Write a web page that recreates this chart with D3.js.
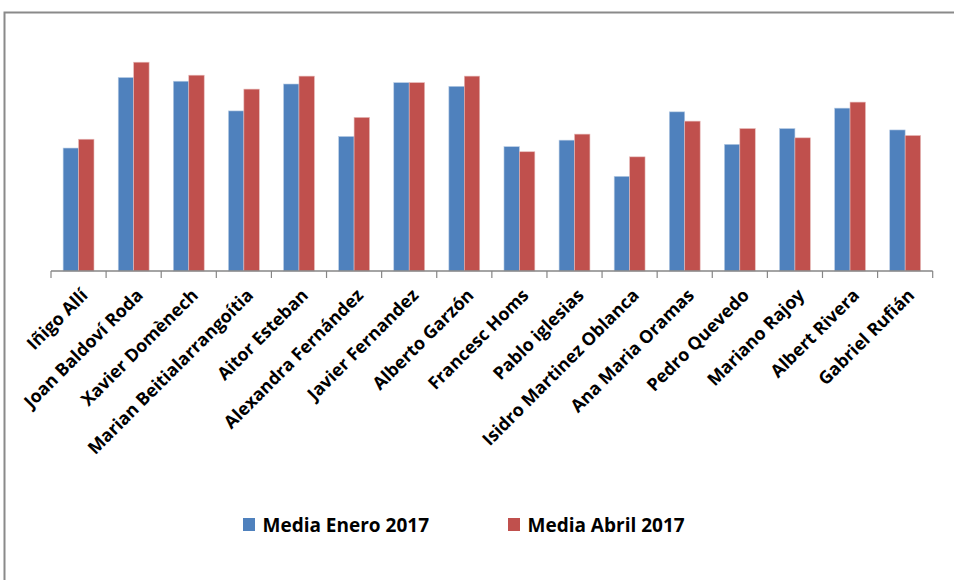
<!DOCTYPE html>
<html><head><meta charset="utf-8">
<script src="https://cdn.jsdelivr.net/npm/d3@7"></script>
<style>body{margin:0;background:#fff}svg{display:block}</style>
</head><body>
<svg id="c" width="954" height="580"></svg>
<script>
const categories = ["Iñigo Allí","Joan Baldoví Roda","Xavier Domènech","Marian Beitialarrangoítia","Aitor Esteban","Alexandra Fernández","Javier Fernandez","Alberto Garzón","Francesc Homs","Pablo iglesias","Isidro Martinez Oblanca","Ana Maria Oramas","Pedro Quevedo","Mariano Rajoy","Albert Rivera","Gabriel Rufián"];
const seriesNames = ["Media Enero 2017","Media Abril 2017"];
const enero = [2.65,4.17,4.09,3.45,4.03,2.90,4.06,3.98,2.68,2.82,2.04,3.43,2.73,3.07,3.51,3.04];
const abril = [2.84,4.50,4.22,3.92,4.20,3.31,4.06,4.20,2.57,2.95,2.46,3.23,3.07,2.87,3.64,2.92];
const colors = ["#4F81BD","#C0504D"];

const svg = d3.select("#c");
const font = "'Open Sans', sans-serif";

// frame
svg.append("path").attr("d","M4.5,580 V12.5 H954").attr("fill","none").attr("stroke","#8a8a8a").attr("stroke-width",2);

const x0 = d3.scaleBand().domain(categories).range([51,932.7]).paddingInner(0.44).paddingOuter(0.22);
const x1 = d3.scaleBand().domain(seriesNames).range([0,x0.bandwidth()]);
const y = d3.scaleLinear().domain([0,5]).range([271,39]);

const data = categories.map((c,i)=>({c, vals:[enero[i],abril[i]]}));
const g = svg.append("g");
g.selectAll("g.cat").data(data).join("g").attr("class","cat")
  .attr("transform",d=>`translate(${x0(d.c)},0)`)
  .selectAll("rect").data(d=>d.vals.map((v,k)=>({k,v}))).join("rect")
  .attr("x",d=>x1(seriesNames[d.k])).attr("width",x1.bandwidth())
  .attr("y",d=>y(d.v)).attr("height",d=>y(0)-y(d.v))
  .attr("fill",d=>colors[d.k]).attr("stroke",d=>d.k===0?"#b9cde5":"#e6b9b8").attr("stroke-width",0.6);

// axis
const xa = d3.scalePoint().domain(d3.range(categories.length+1)).range([51,932.7]);
svg.append("line").attr("x1",51).attr("x2",932.7).attr("y1",271).attr("y2",271).attr("stroke","#868686").attr("stroke-width",1.5);
svg.selectAll("line.tk").data(d3.range(categories.length+1)).join("line").attr("class","tk")
  .attr("x1",d=>xa(d)).attr("x2",d=>xa(d)).attr("y1",271).attr("y2",278).attr("stroke","#868686").attr("stroke-width",1.2);

svg.selectAll("text.lbl").data(categories).join("text").attr("class","lbl")
  .attr("transform",d=>`translate(${x0(d)+x0.bandwidth()/2+6},292) rotate(-45)`)
  .attr("text-anchor","end").attr("dy","0.35em")
  .attr("font-family",font).attr("font-weight","bold").attr("font-size",17.8).attr("fill","#000")
  .text(d=>d);

// legend
const lg = svg.append("g");
const lx = [243,508];
seriesNames.forEach((s,i)=>{
  lg.append("rect").attr("x",lx[i]).attr("y",518).attr("width",12).attr("height",13).attr("fill",colors[i]);
  lg.append("text").attr("x",lx[i]+19.5).attr("y",532).attr("font-family",font).attr("font-weight","bold").attr("font-size",19).attr("fill","#000").text(s);
});
</script>
</body></html>
